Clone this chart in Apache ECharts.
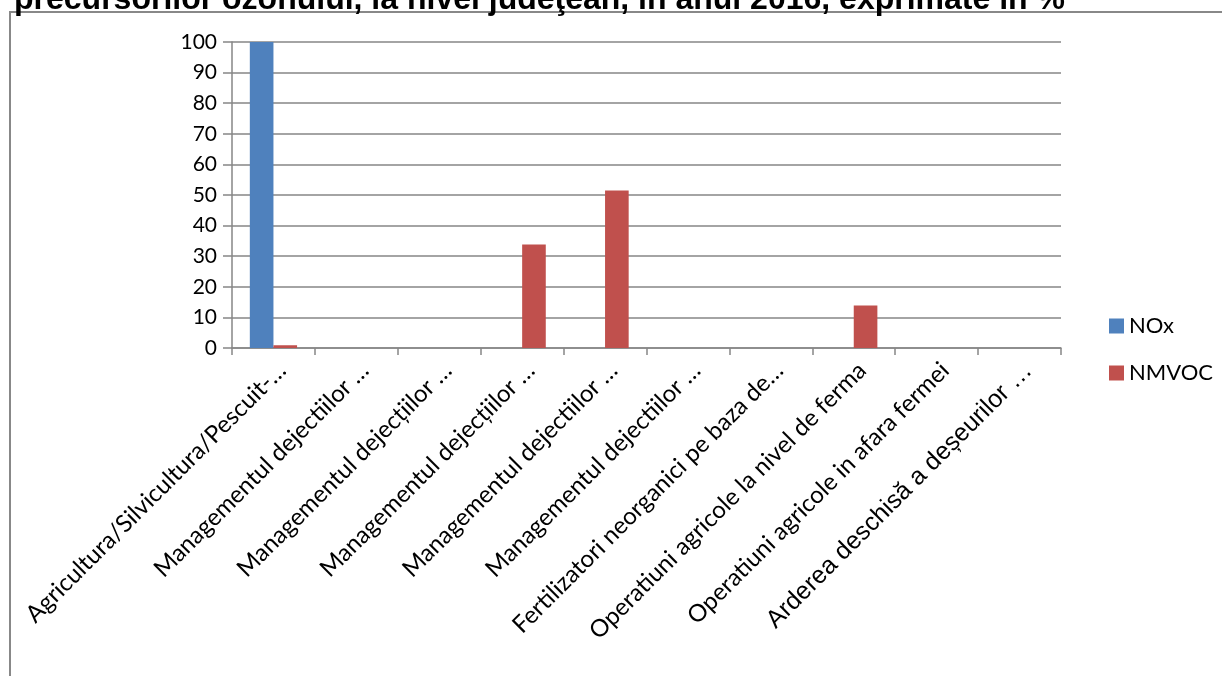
<!DOCTYPE html>
<html><head><meta charset="utf-8">
<script src="https://cdn.jsdelivr.net/npm/echarts@6/dist/echarts.min.js"></script>
<style>html,body{margin:0;padding:0;background:#fff}#c{width:1222px;height:676px}</style>
</head><body><div id="c"></div>
<script>
var titleText = 'precursorilor ozonului, la nivel judeţean, în anul 2016, exprimate în %';
var categories = [
  'Agricultura/Silvicultura/Pescuit-…',
  'Managementul dejectiilor …',
  'Managementul dejecțiilor …',
  'Managementul dejecțiilor …',
  'Managementul dejectiilor …',
  'Managementul dejectiilor …',
  'Fertilizatori neorganici pe baza de…',
  'Operatiuni agricole la nivel de ferma',
  'Operatiuni agricole in afara fermei',
  'Arderea deschisă a deșeurilor …'
];
var noxValues   = [100, 0, 0, 0, 0, 0, 0, 0, 0, 0];
var nmvocValues = [0.9, 0, 0, 33.8, 51.5, 0, 0, 13.9, 0, 0];
var yTicks = [0, 10, 20, 30, 40, 50, 60, 70, 80, 90, 100];

var chart = echarts.init(document.getElementById('c'), null, {renderer: 'canvas'});
chart.setOption({
  animation: false,
  backgroundColor: '#fff',
  title: {
    text: titleText, left: 9, top: -21,
    textStyle: {fontFamily: 'Liberation Sans', fontWeight: 'bold', fontSize: 32, color: '#000', lineHeight: 32}
  },
  graphic: [{
    type: 'rect', shape: {x: 10, y: 12, width: 1300, height: 800},
    style: {fill: 'none', stroke: '#888', lineWidth: 2}, silent: true, z: -1
  }],
  legend: {
    orient: 'vertical', left: 1104, top: 310, itemGap: 25,
    itemWidth: 15, itemHeight: 15, icon: 'rect',
    textStyle: {fontFamily: 'Lato', fontSize: 22, color: '#000'},
    data: ['NOx', 'NMVOC']
  },
  grid: {left: 232, right: 161, top: 42, bottom: 328, containLabel: false},
  xAxis: {
    type: 'category', data: categories,
    axisLine: {lineStyle: {color: '#868686', width: 1.5}},
    axisTick: {show: true, length: 7, lineStyle: {color: '#868686', width: 1.5}},
    axisLabel: {rotate: 45, interval: 0, margin: 10, verticalAlign: 'top',
      fontFamily: 'Lato', fontSize: 24, color: '#000',
      formatter: function (v, i) {
        return i === categories.length - 1 ? '{a|' + v + '}' : v;
      },
      rich: {a: {fontFamily: 'Liberation Sans', fontSize: 25, color: '#000'}}
    }
  },
  yAxis: {
    type: 'value', min: 0, max: 100, interval: 10,
    axisLine: {show: true, lineStyle: {color: '#868686', width: 1.5}},
    axisTick: {show: true, inside: false, length: 9, lineStyle: {color: '#868686', width: 1.5}},
    axisLabel: {fontFamily: 'Lato', fontSize: 21, color: '#000', margin: 15,
      formatter: function (v) { return yTicks.indexOf(v) >= 0 ? String(v) : ''; }},
    splitLine: {lineStyle: {color: '#868686', width: 1.5}}
  },
  series: [
    {name: 'NOx', type: 'bar', data: noxValues, barGap: '0%', barCategoryGap: '43%',
      itemStyle: {color: '#4F81BD'}},
    {name: 'NMVOC', type: 'bar', data: nmvocValues, barGap: '0%', barCategoryGap: '43%',
      itemStyle: {color: '#C0504D'}}
  ]
});
</script></body></html>
